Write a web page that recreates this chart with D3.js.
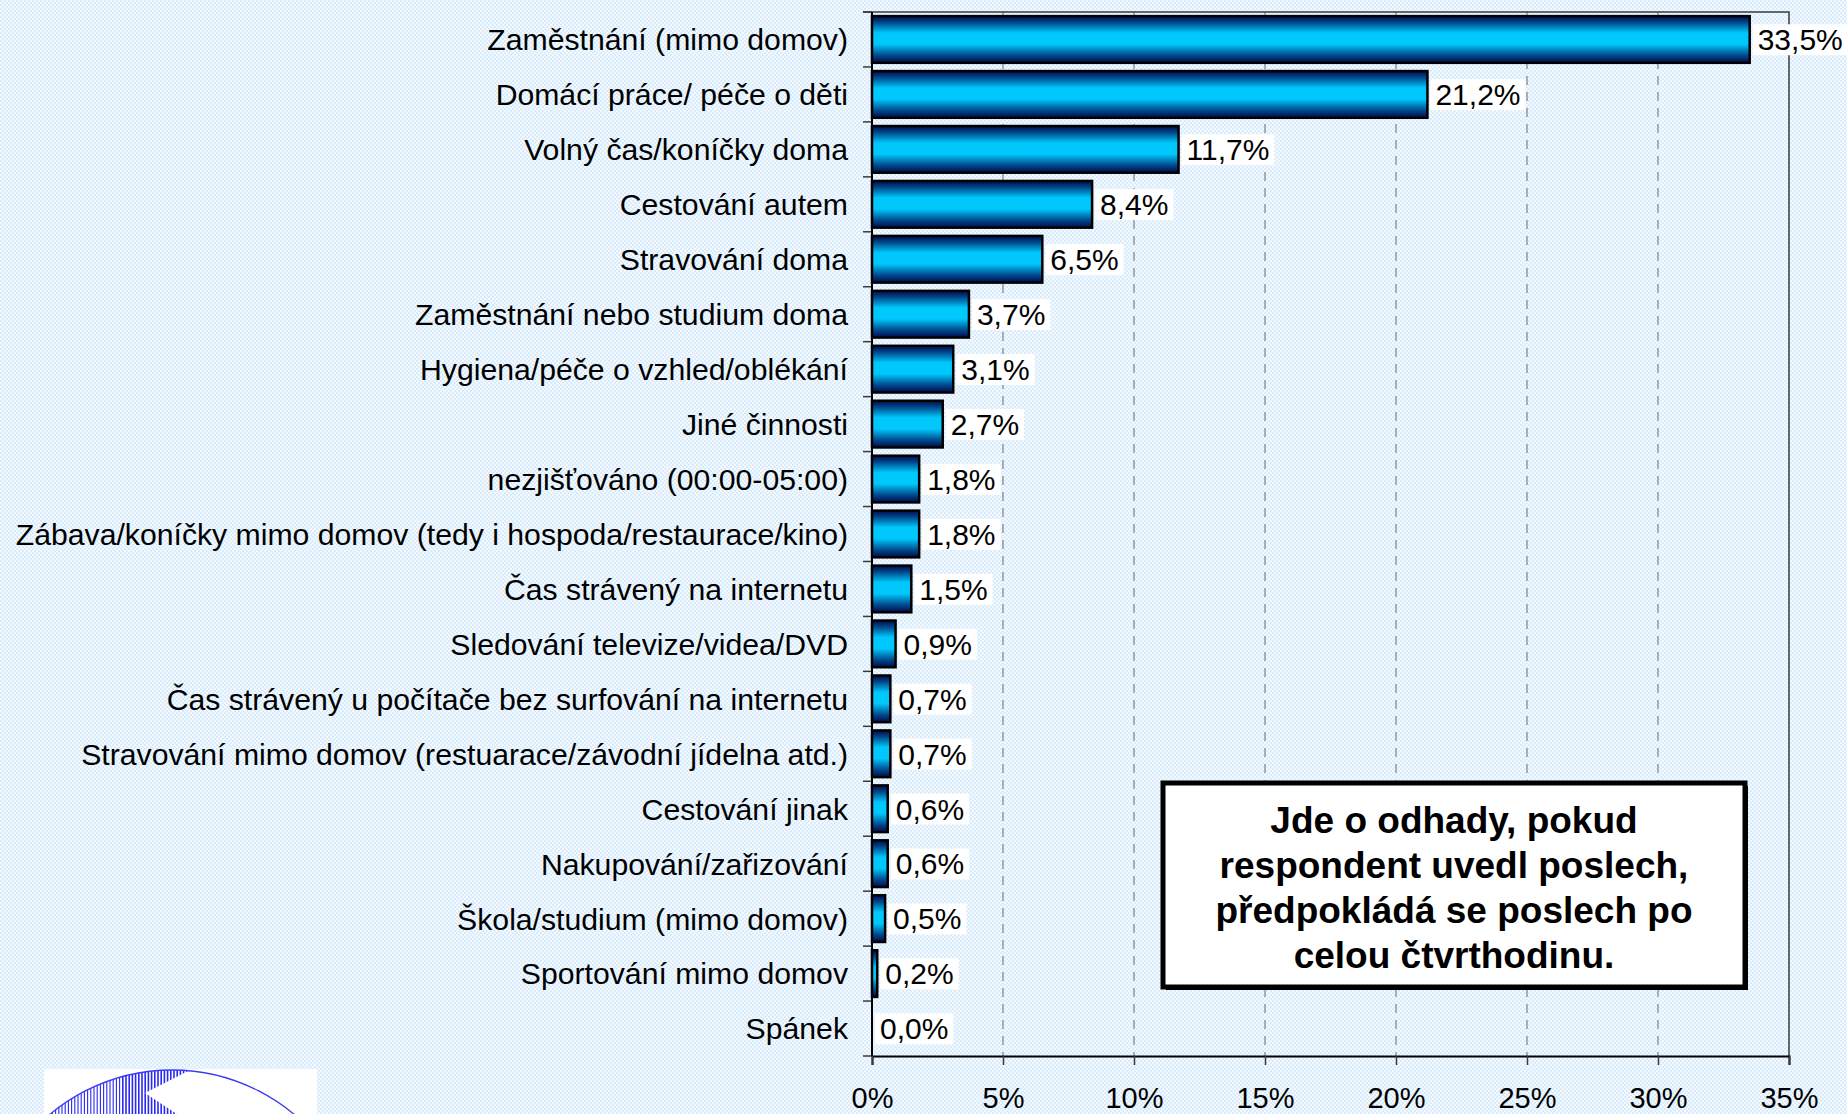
<!DOCTYPE html>
<html>
<head>
<meta charset="utf-8">
<script src="https://cdn.jsdelivr.net/npm/d3@7"></script>
<style>
  html, body { margin: 0; padding: 0; overflow: hidden; }
  svg { display: block; font-family: "Liberation Sans", Arial, sans-serif; }
</style>
</head>
<body>
<div id="chart"></div>
<script>
const categories = [
    "Zaměstnání (mimo domov)",
    "Domácí práce/ péče o děti",
    "Volný čas/koníčky doma",
    "Cestování autem",
    "Stravování doma",
    "Zaměstnání nebo studium doma",
    "Hygiena/péče o vzhled/oblékání",
    "Jiné činnosti",
    "nezjišťováno (00:00-05:00)",
    "Zábava/koníčky mimo domov (tedy i hospoda/restaurace/kino)",
    "Čas strávený na internetu",
    "Sledování televize/videa/DVD",
    "Čas strávený u počítače bez surfování na internetu",
    "Stravování mimo domov (restuarace/závodní jídelna atd.)",
    "Cestování jinak",
    "Nakupování/zařizování",
    "Škola/studium (mimo domov)",
    "Sportování mimo domov",
    "Spánek"
];
const values = [33.5, 21.2, 11.7, 8.4, 6.5, 3.7, 3.1, 2.7, 1.8, 1.8, 1.5, 0.9, 0.7, 0.7, 0.6, 0.6, 0.5, 0.2, 0.0];
const xTicks = [0, 5, 10, 15, 20, 25, 30, 35];
const noteLines = [
    "Jde o odhady, pokud",
    "respondent uvedl poslech,",
    "předpokládá se poslech po",
    "celou čtvrthodinu."
];

const W = 1847, H = 1114;
const plot = { left: 872, right: 1789, top: 12, bottom: 1056 };

const svg = d3.select("#chart").append("svg")
    .attr("width", W)
    .attr("height", H);

const defs = svg.append("defs");

// dotted light blue backdrop
const pat = defs.append("pattern")
    .attr("id", "dots")
    .attr("width", 4).attr("height", 4)
    .attr("patternUnits", "userSpaceOnUse");
pat.append("rect").attr("width", 4).attr("height", 4).attr("fill", "#f3f9fe");
pat.append("rect").attr("x", 0).attr("y", 0).attr("width", 2).attr("height", 2).attr("fill", "#d8ecfb");
pat.append("rect").attr("x", 2).attr("y", 2).attr("width", 2).attr("height", 2).attr("fill", "#d8ecfb");

const grad = defs.append("linearGradient")
    .attr("id", "barGrad")
    .attr("x1", 0).attr("y1", 0).attr("x2", 0).attr("y2", 1);
[["0%", "#000a4c"], ["14%", "#004a8c"], ["36%", "#00c8fc"], ["60%", "#00c8fc"], ["84%", "#004a8c"], ["100%", "#000a4c"]]
    .forEach(function (s) {
        grad.append("stop").attr("offset", s[0]).attr("stop-color", s[1]);
    });

svg.append("rect").attr("width", W).attr("height", H).attr("fill", "url(#dots)");

const x = d3.scaleLinear().domain([0, 35]).range([plot.left, plot.right]);
const y = d3.scaleBand().domain(categories).range([plot.top, plot.bottom])
    .paddingInner(0.15).paddingOuter(0.075);

// dashed gridlines
svg.append("g").selectAll("line")
    .data(xTicks.slice(1, -1))
    .enter().append("line")
    .attr("x1", function (d) { return x(d); })
    .attr("x2", function (d) { return x(d); })
    .attr("y1", plot.top).attr("y2", plot.bottom)
    .attr("stroke", "#808080")
    .attr("stroke-width", 1.2)
    .attr("stroke-dasharray", "9,7");

// plot frame top / right
svg.append("path")
    .attr("d", `M${plot.left - 9},${plot.top}H${plot.right}V${plot.bottom}`)
    .attr("fill", "none")
    .attr("stroke", "#3a3a3a")
    .attr("stroke-width", 1.5);

// bars
svg.append("g").selectAll("rect")
    .data(values)
    .enter().append("rect")
    .attr("x", x(0))
    .attr("y", function (d, i) { return y(categories[i]); })
    .attr("width", function (d) { return Math.max(0, x(d) - x(0)); })
    .attr("height", y.bandwidth())
    .attr("fill", "url(#barGrad)")
    .attr("stroke", "#000")
    .attr("stroke-width", function (d) { return d > 0 ? 2.5 : 0; });

// value labels with white boxes
const lab = svg.append("g").selectAll("g")
    .data(values)
    .enter().append("g");
lab.append("rect").attr("fill", "#fff");
lab.append("text")
    .attr("x", function (d) { return x(d) + 8; })
    .attr("y", function (d, i) { return y(categories[i]) + y.bandwidth() / 2; })
    .attr("dy", "0.36em")
    .attr("font-size", 30)
    .attr("fill", "#000")
    .text(function (d) { return d.toFixed(1).replace(".", ",") + "%"; });
lab.each(function () {
    const g = d3.select(this);
    const b = g.select("text").node().getBBox();
    g.select("rect")
        .attr("x", b.x - 5).attr("y", b.y + 1)
        .attr("width", b.width + 10).attr("height", b.height - 2);
});

// category labels
svg.append("g").selectAll("text")
    .data(categories)
    .enter().append("text")
    .attr("x", plot.left - 24)
    .attr("y", function (d) { return y(d) + y.bandwidth() / 2; })
    .attr("dy", "0.36em")
    .attr("text-anchor", "end")
    .attr("font-size", 30.2)
    .attr("fill", "#000")
    .text(function (d) { return d; });

// left axis with ticks at band boundaries
const bounds = d3.range(categories.length + 1).map(function (i) { return plot.top + i * y.step(); });
svg.append("g").selectAll("line")
    .data(bounds)
    .enter().append("line")
    .attr("x1", plot.left - 9).attr("x2", plot.left)
    .attr("y1", function (d) { return d; }).attr("y2", function (d) { return d; })
    .attr("stroke", "#3a3a3a").attr("stroke-width", 1.5);
svg.append("line")
    .attr("x1", plot.left).attr("x2", plot.left)
    .attr("y1", plot.top).attr("y2", plot.bottom)
    .attr("stroke", "#000").attr("stroke-width", 2);

// bottom axis
const xAxis = d3.axisBottom(x)
    .tickValues(xTicks)
    .tickSize(9)
    .tickPadding(22)
    .tickFormat(function (d) { return d + "%"; });
const gx = svg.append("g")
    .attr("transform", `translate(0,${plot.bottom})`)
    .call(xAxis);
gx.select(".domain").attr("stroke", "#000").attr("stroke-width", 2);
gx.selectAll(".tick line").attr("stroke", "#3a3a3a").attr("stroke-width", 1.5);
gx.selectAll(".tick text")
    .attr("font-size", 29)
    .attr("font-family", "Liberation Sans, Arial, sans-serif")
    .attr("fill", "#000");

// note box
const box = { x: 1163, y: 783, w: 582, h: 204 };
svg.append("rect")
    .attr("x", box.x + 3).attr("y", box.y + 3)
    .attr("width", box.w).attr("height", box.h)
    .attr("fill", "#000");
svg.append("rect")
    .attr("x", box.x).attr("y", box.y)
    .attr("width", box.w).attr("height", box.h)
    .attr("fill", "#fff")
    .attr("stroke", "#000")
    .attr("stroke-width", 5);
svg.append("g").selectAll("text")
    .data(noteLines)
    .enter().append("text")
    .attr("x", box.x + box.w / 2)
    .attr("y", function (d, i) { return box.y + 50 + i * 45; })
    .attr("text-anchor", "middle")
    .attr("font-size", 37)
    .attr("font-weight", "bold")
    .attr("fill", "#000")
    .text(function (d) { return d; });

// logo fragment bottom-left
const logo = svg.append("g");
logo.append("rect").attr("x", 44).attr("y", 1069).attr("width", 273).attr("height", 60).attr("fill", "#fff");
defs.append("clipPath").attr("id", "globe")
    .append("circle").attr("cx", 172).attr("cy", 1260).attr("r", 190);
const hatch = logo.append("g").attr("clip-path", "url(#globe)");
hatch.selectAll("line")
    .data(d3.range(46, 200, 3.2))
    .enter().append("line")
    .attr("x1", function (d) { return d; }).attr("x2", function (d) { return d; })
    .attr("y1", 1060).attr("y2", 1114)
    .attr("stroke", "#2a2af5")
    .attr("stroke-width", function (d) { return d > 120 ? 1.6 : 1.1; });
hatch.append("path")
    .attr("d", "M145,1093L194,1068L330,1068L330,1120L186,1120Z")
    .attr("fill", "#fff");
logo.append("path")
    .attr("d", d3.arc()({ innerRadius: 190, outerRadius: 190, startAngle: -0.9, endAngle: 0.9 }))
    .attr("transform", "translate(172,1260)")
    .attr("fill", "none")
    .attr("stroke", "#3a3af5")
    .attr("stroke-width", 1.3);
</script>
</body>
</html>
